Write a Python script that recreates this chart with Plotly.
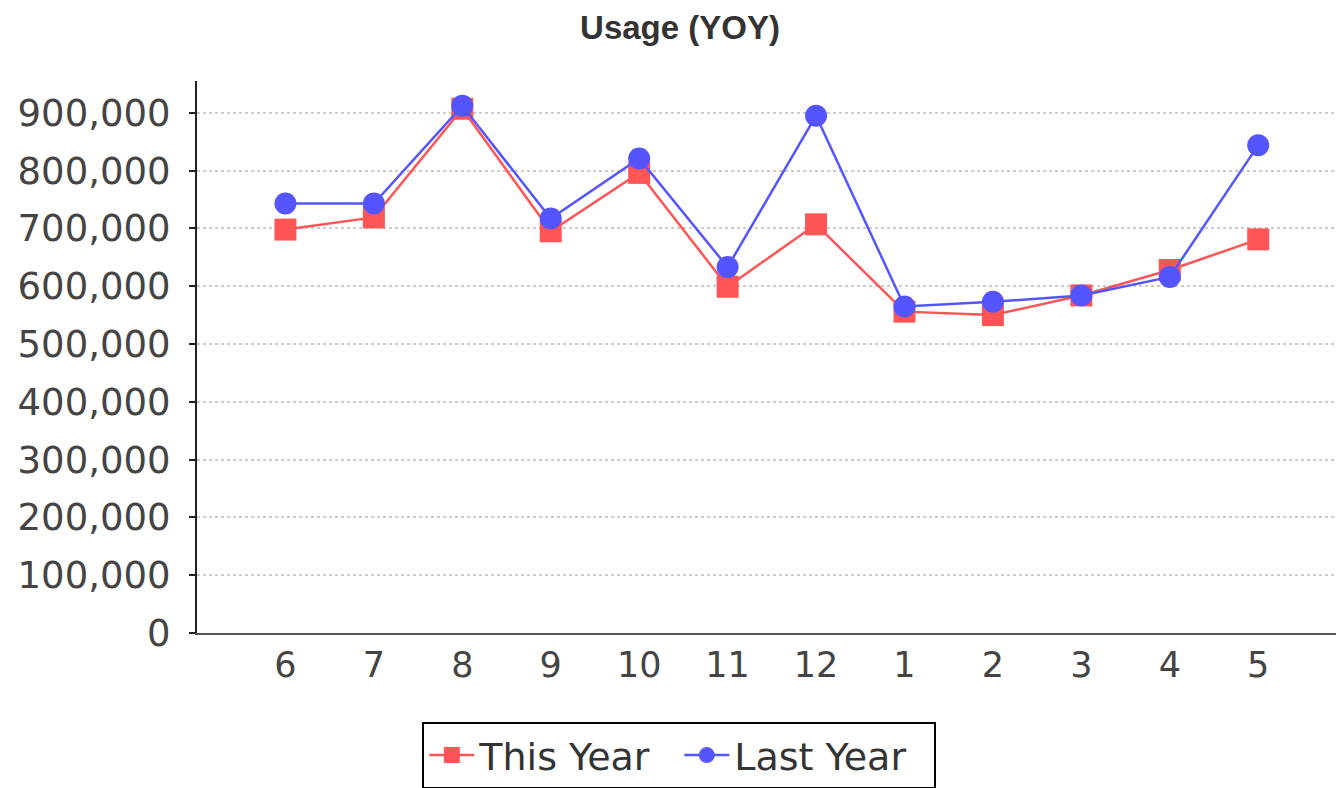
import plotly.graph_objects as go

months = ["6", "7", "8", "9", "10", "11", "12", "1", "2", "3", "4", "5"]
this_year = [698000, 719000, 907000, 695000, 796000, 599000, 707000, 556000, 550000, 584000, 628000, 681000]
last_year = [743000, 743000, 912000, 717000, 821000, 633000, 895000, 565000, 573000, 584000, 616000, 844000]
y_ticks = [0, 100000, 200000, 300000, 400000, 500000, 600000, 700000, 800000, 900000]

fig = go.Figure()
fig.add_trace(go.Scatter(
    x=months, y=this_year, name="This Year", mode="lines+markers",
    line=dict(color="#FF5555", width=2.5),
    marker=dict(symbol="square", size=22, color="#FF5555"),
))
fig.add_trace(go.Scatter(
    x=months, y=last_year, name="Last Year", mode="lines+markers",
    line=dict(color="#5555FF", width=2.5),
    marker=dict(symbol="circle", size=22, color="#5555FF"),
))

fig.update_layout(
    width=1336, height=780,
    paper_bgcolor="white", plot_bgcolor="white",
    margin=dict(l=189, r=0, t=73, b=155, autoexpand=False),
    title=dict(text="<b>Usage (YOY)</b>", x=0.503, xanchor="center", y=0.975, yanchor="middle",
               font=dict(family="Liberation Sans, Arial", size=33, color="#333")),
    font=dict(family="DejaVu Sans", size=36, color="#444"),
    showlegend=True,
    legend=dict(orientation="h", x=0.4205, xanchor="center", y=-0.161, yanchor="top",
                bordercolor="black", borderwidth=2, bgcolor="white",
                font=dict(family="DejaVu Sans", size=38, color="#333"),
                itemwidth=45, tracegroupgap=0,
                entrywidth=195, entrywidthmode="pixels"),
    hovermode=False,
)
fig.update_xaxes(
    type="category", range=[-1.0, 11.97],
    showgrid=False, showline=True, linecolor="#555", linewidth=2,
    ticks="", tickfont=dict(family="DejaVu Sans", size=35, color="#444"),
    zeroline=False,
)
fig.update_yaxes(
    range=[0, 955000], tickvals=y_ticks, tickformat=",d",
    showgrid=True, gridcolor="#cccccc", griddash="dot", gridwidth=1.5,
    showline=True, linecolor="#222", linewidth=2,
    ticks="outside", ticklen=6, tickcolor="#222", tickwidth=2,
    ticklabelstandoff=11,
    tickfont=dict(family="DejaVu Sans", size=37, color="#444"),
    zeroline=False,
)

fig.write_html("out.html")
